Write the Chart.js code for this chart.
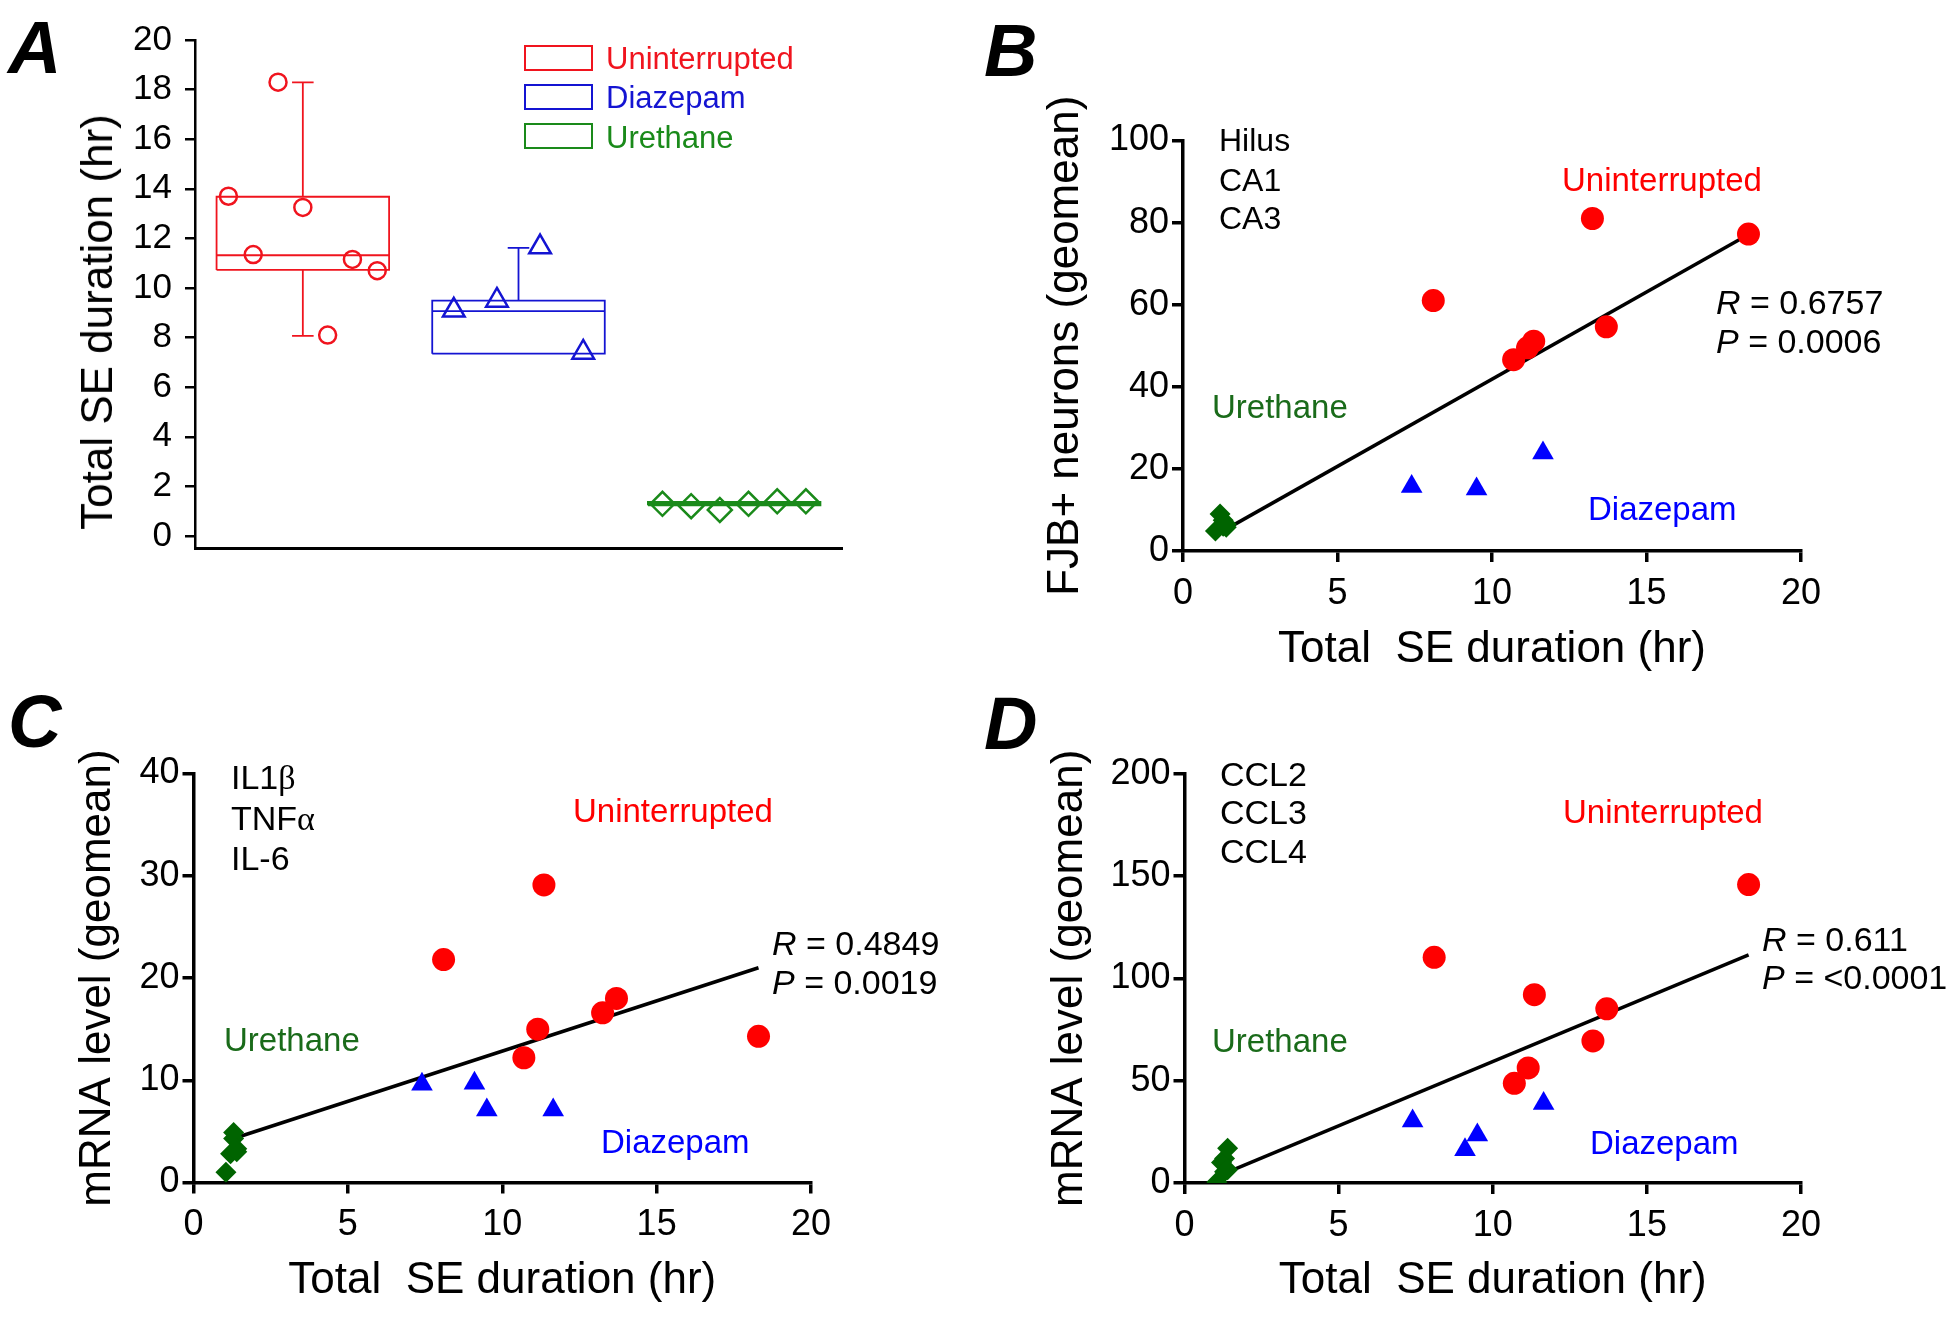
<!DOCTYPE html>
<html lang="en">
<head>
<meta charset="UTF-8">
<title>Total SE duration vs FJB+ neurons and mRNA levels</title>
<script src="https://cdn.jsdelivr.net/npm/chart.js@4"></script>
<style>
    body { margin: 0; background: #fff; font-family: "Liberation Sans", Arial, sans-serif; }
    #page { position: relative; width: 1950px; height: 1322px; overflow: hidden; }
    canvas { position: absolute; }
    .lbl { position: absolute; white-space: nowrap; line-height: 1; transform: translateY(-50%); font-size: 33px; color: #000; }
    .panel { position: absolute; font-weight: bold; font-style: italic; font-size: 74px; line-height: 1; }
    .key { position: absolute; left: 524px; width: 69px; height: 26px; box-sizing: border-box; border: 2px solid; }
    .gk { font-family: "Liberation Serif", "Times New Roman", serif; }
    .red { color: #ff0000; } .blue { color: #0000ff; } .green { color: #1a6b1a; }
</style>
</head>
<body>
<div id="page">
    <canvas id="cA" width="960" height="600" style="left:0;top:0"></canvas>
    <canvas id="cB" width="990" height="690" style="left:960px;top:0"></canvas>
    <canvas id="cC" width="960" height="632" style="left:0;top:690px"></canvas>
    <canvas id="cD" width="990" height="632" style="left:960px;top:690px"></canvas>

    <!-- panel letters -->
    <div class="panel" style="left:8px;top:11px">A</div>
    <div class="panel" style="left:984px;top:14px">B</div>
    <div class="panel" style="left:8px;top:685px">C</div>
    <div class="panel" style="left:984px;top:687px">D</div>

    <!-- A: axis title and legend -->
    <div class="lbl" style="left:97px;top:322px;font-size:44px;transform:translate(-50%,-50%) rotate(-90deg)">Total SE duration (hr)</div>
    <div class="key" style="top:45px;border-color:#f0141e"></div>
    <div class="key" style="top:84px;border-color:#1414d2"></div>
    <div class="key" style="top:123px;border-color:#1a8a1a"></div>
    <div class="lbl" style="left:606px;top:58px;font-size:31px;color:#f0141e">Uninterrupted</div>
    <div class="lbl" style="left:606px;top:97px;font-size:31px;color:#1414d2">Diazepam</div>
    <div class="lbl" style="left:606px;top:137px;font-size:31px;color:#1a8a1a">Urethane</div>

    <!-- B -->
    <div class="lbl" style="left:1219px;top:140px;font-size:32px">Hilus</div>
    <div class="lbl" style="left:1219px;top:180px;font-size:32px">CA1</div>
    <div class="lbl" style="left:1219px;top:218px;font-size:32px">CA3</div>
    <div class="lbl red" style="left:1562px;top:179px">Uninterrupted</div>
    <div class="lbl" style="left:1716px;top:302px;font-size:34px"><i>R</i> = 0.6757</div>
    <div class="lbl" style="left:1716px;top:341px;font-size:34px"><i>P</i> = 0.0006</div>
    <div class="lbl green" style="left:1212px;top:406px">Urethane</div>
    <div class="lbl blue" style="left:1588px;top:508px">Diazepam</div>

    <!-- C -->
    <div class="lbl" style="left:231px;top:777px;font-size:34px">IL1<span class="gk">β</span></div>
    <div class="lbl" style="left:231px;top:818px;font-size:34px">TNF<span class="gk">α</span></div>
    <div class="lbl" style="left:231px;top:858px;font-size:34px">IL-6</div>
    <div class="lbl red" style="left:573px;top:810px">Uninterrupted</div>
    <div class="lbl" style="left:772px;top:943px;font-size:34px"><i>R</i> = 0.4849</div>
    <div class="lbl" style="left:772px;top:982px;font-size:34px"><i>P</i> = 0.0019</div>
    <div class="lbl green" style="left:224px;top:1039px">Urethane</div>
    <div class="lbl blue" style="left:601px;top:1141px">Diazepam</div>

    <!-- D -->
    <div class="lbl" style="left:1220px;top:774px;font-size:34px">CCL2</div>
    <div class="lbl" style="left:1220px;top:812px;font-size:34px">CCL3</div>
    <div class="lbl" style="left:1220px;top:851px;font-size:34px">CCL4</div>
    <div class="lbl red" style="left:1563px;top:811px">Uninterrupted</div>
    <div class="lbl" style="left:1762px;top:939px;font-size:34px"><i>R</i> = 0.611</div>
    <div class="lbl" style="left:1762px;top:977px;font-size:34px"><i>P</i> = &lt;0.0001</div>
    <div class="lbl green" style="left:1212px;top:1040px">Urethane</div>
    <div class="lbl blue" style="left:1590px;top:1142px">Diazepam</div>
</div>

<script>
    // total SE duration (hr) per animal, same order in every panel
    const seUnint = [13.7, 11.35, 18.3, 13.25, 8.1, 11.15, 10.7];
    const seDiaz = [9.1, 9.5, 11.65, 7.4];
    const seUreth = [1.3, 1.2, 1.05, 1.3, 1.4, 1.4];

    // panel A box plots: [q1, median, q3, low whisker, high whisker]
    const boxUnint = [10.73, 11.32, 13.68, 8.07, 18.29];
    const boxDiaz = [7.35, 9.07, 9.49, 7.35, 11.62];
    const boxUreth = [1.24, 1.3, 1.38, 1.24, 1.38];
    const yTicksA = [0, 2, 4, 6, 8, 10, 12, 14, 16, 18, 20];

    // panel B: FJB+ neurons (geomean)
    const fjbUnint = [54.6, 51.1, 77.2, 81.0, 61.0, 49.5, 46.6];
    const fjbDiaz = [null, 15.1, 23.9, 15.7];
    const fjbUreth = [6.0, 9.0, 4.9, 7.5, 6.5, 5.8];
    const fitBx = [1.3, 18.3], fitBy = [4.9, 77.1];

    // panel C: IL1b / TNFa / IL-6 mRNA (geomean)
    const cytUnint = [18.0, 29.1, 14.3, 16.6, 21.8, 15.0, 12.2];
    const cytDiaz = [9.7, 7.1, 7.1, 9.6];
    const cytUreth = [4.9, 2.8, 1.0, 4.3, 3.3, 3.0];
    const fitCx = [1.4, 18.3], fitCy = [4.4, 21.0];

    // panel D: CCL2 / CCL3 / CCL4 mRNA (geomean)
    const cclUnint = [85.1, 92.0, 145.8, 69.4, 110.3, 56.2, 48.7];
    const cclDiaz = [16.2, 23.4, 38.8, 30.3];
    const cclUreth = [12, 10, 0.5, 5.5, 17, 6.5];
    const fitDx = [1.4, 18.3], fitDy = [5.3, 111.5];

    const xTicks = [0, 20, 5];
    const yTicksB = [0, 100, 20], yTicksC = [0, 40, 10], yTicksD = [0, 200, 50];

    const RED = '#ff0000', BLUE = '#0000ff', GREEN = '#006400';
    const aRed = '#f0141e', aBlue = '#1414d2', aGreen = '#1a8a1a';

    Chart.defaults.font.family = '"Liberation Sans", Arial, sans-serif';
    Chart.defaults.color = '#000';

    // fix the axis boxes so the plot areas land where the figure has them
    const pinY = w => s => { s.width = w; s.paddingTop = s.paddingBottom = s.paddingLeft = s.paddingRight = 0; };
    const pinX = h => s => { s.height = h; s.paddingTop = s.paddingBottom = s.paddingLeft = s.paddingRight = 0; };

    const base = {
        responsive: false, animation: false, devicePixelRatio: 1, events: [],
        plugins: { legend: { display: false }, tooltip: { enabled: false } }
    };

    // ---------- A: box plots ----------
    const boxHalf = 0.4, capHalf = 0.05;
    function boxLines(c, st) {
        const [q1, med, q3, lo, hi] = st;
        const gap = { x: null, y: null };
        const pts = [
            { x: c - boxHalf, y: q1 }, { x: c + boxHalf, y: q1 }, { x: c + boxHalf, y: q3 },
            { x: c - boxHalf, y: q3 }, { x: c - boxHalf, y: q1 }, gap,
            { x: c - boxHalf, y: med }, { x: c + boxHalf, y: med }, gap
        ];
        if (hi > q3) pts.push({ x: c, y: q3 }, { x: c, y: hi }, gap, { x: c - capHalf, y: hi }, { x: c + capHalf, y: hi }, gap);
        if (lo < q1) pts.push({ x: c, y: q1 }, { x: c, y: lo }, gap, { x: c - capHalf, y: lo }, { x: c + capHalf, y: lo }, gap);
        return pts;
    }
    function spread(vals, c, step) {
        return vals.map((v, i) => ({ x: c + (i - (vals.length - 1) / 2) * step, y: v }));
    }
    const openPts = (data, style, color, r) => ({
        data, pointStyle: style, pointRadius: r, borderColor: color, pointBorderWidth: 2.5,
        backgroundColor: 'rgba(0,0,0,0)'
    });
    const boxSet = (data, color) => ({
        data, showLine: true, pointRadius: 0, borderColor: color, borderWidth: 1.8, tension: 0, spanGaps: false
    });

    new Chart(document.getElementById('cA'), {
        type: 'scatter',
        data: {
            datasets: [
                openPts(spread(seUnint, 0.5, 0.115), 'circle', aRed, 8.5),
                openPts(spread(seDiaz, 1.5, 0.2), 'triangle', aBlue, 12.5),
                openPts(spread(seUreth, 2.5, 0.133), 'rectRot', aGreen, 12),
                boxSet(boxLines(0.5, boxUnint), aRed),
                boxSet(boxLines(1.5, boxDiaz), aBlue),
                boxSet(boxLines(2.5, boxUreth), aGreen)
            ]
        },
        options: {
            ...base,
            layout: { padding: { left: 0, top: 40, right: 118, bottom: 0 } },
            scales: {
                x: {
                    min: 0, max: 3, afterFit: pinX(51.6),
                    ticks: { display: false }, grid: { display: false },
                    border: { display: true, color: '#000', width: 3 }
                },
                y: {
                    min: -0.5, max: 20, afterFit: pinY(195),
                    afterBuildTicks: s => { s.ticks = yTicksA.map(v => ({ value: v })); },
                    ticks: { padding: 13, font: { size: 35 } },
                    grid: { drawOnChartArea: false, tickLength: 10, lineWidth: 2.5, color: '#000' },
                    border: { color: '#000', width: 2.5 }
                }
            }
        }
    });

    // ---------- B, C, D: scatter with regression line ----------
    const pairs = (xs, ys) => xs.map((x, i) => ({ x, y: ys[i] })).filter(p => p.y !== null);

    function scatterPanel(id, o) {
        new Chart(document.getElementById(id), {
            type: 'scatter',
            data: {
                datasets: [
                    { data: pairs(seUnint, o.unint), pointStyle: 'circle', pointRadius: 11.5, backgroundColor: RED, borderColor: RED, pointBorderWidth: 0 },
                    { data: pairs(seDiaz, o.diaz), pointStyle: 'triangle', pointRadius: 12.5, backgroundColor: BLUE, borderColor: BLUE, pointBorderWidth: 0 },
                    { data: pairs(seUreth, o.ureth), pointStyle: 'rectRot', pointRadius: 10.5, backgroundColor: GREEN, borderColor: GREEN, pointBorderWidth: 0 },
                    { data: pairs(o.fitX, o.fitY), showLine: true, pointRadius: 0, borderColor: '#000', borderWidth: 3.5 }
                ]
            },
            options: {
                ...base,
                layout: { padding: o.pad },
                scales: {
                    x: {
                        min: xTicks[0], max: xTicks[1], afterFit: pinX(o.xH),
                        ticks: { stepSize: xTicks[2], padding: 10, font: { size: 36 } },
                        grid: { drawOnChartArea: false, tickLength: 11, lineWidth: 3.5, color: '#000' },
                        border: { color: '#000', width: 3.5 },
                        title: { display: true, text: 'Total  SE duration (hr)', font: { size: 44 }, padding: { top: 0, bottom: o.xTitlePad } }
                    },
                    y: {
                        min: o.yTicks[0], max: o.yTicks[1], afterFit: pinY(o.yW),
                        ticks: { stepSize: o.yTicks[2], padding: 3, font: { size: 36 } },
                        grid: { drawOnChartArea: false, tickLength: 11, lineWidth: 3.5, color: '#000' },
                        border: { color: '#000', width: 3.5 },
                        title: { display: true, text: o.yTitle, font: { size: 44 }, padding: { top: o.yTitlePad, bottom: 0 } }
                    }
                }
            }
        });
    }

    scatterPanel('cB', {
        unint: fjbUnint, diaz: fjbDiaz, ureth: fjbUreth, fitX: fitBx, fitY: fitBy,
        yTicks: yTicksB, yTitle: 'FJB+ neurons (geomean)',
        pad: { left: 0, top: 140.5, right: 149, bottom: 0 }, yW: 223, xH: 139, yTitlePad: 79.6, xTitlePad: 14
    });
    scatterPanel('cC', {
        unint: cytUnint, diaz: cytDiaz, ureth: cytUreth, fitX: fitCx, fitY: fitCy,
        yTicks: yTicksC, yTitle: 'mRNA level (geomean)',
        pad: { left: 0, top: 83.5, right: 149, bottom: 0 }, yW: 193.5, xH: 139.5, yTitlePad: 71, xTitlePad: 15
    });
    scatterPanel('cD', {
        unint: cclUnint, diaz: cclDiaz, ureth: cclUreth, fitX: fitDx, fitY: fitDy,
        yTicks: yTicksD, yTitle: 'mRNA level (geomean)',
        pad: { left: 0, top: 83.7, right: 149, bottom: 0 }, yW: 224.5, xH: 139, yTitlePad: 83.6, xTitlePad: 15
    });
</script>
</body>
</html>
